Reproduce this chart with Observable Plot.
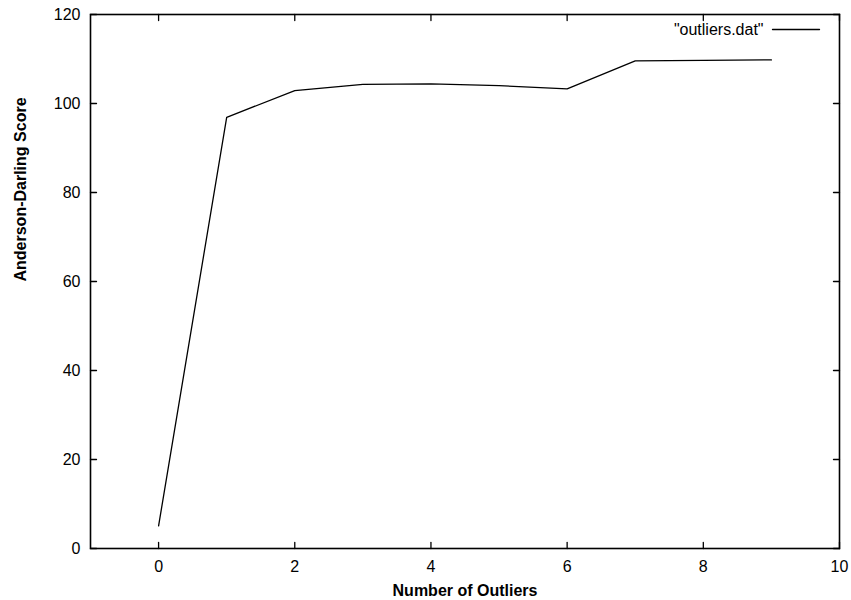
<!DOCTYPE html>
<html>
<head>
<meta charset="utf-8">
<script src="https://cdn.jsdelivr.net/npm/d3@7"></script>
<script src="https://cdn.jsdelivr.net/npm/@observablehq/plot@0.6"></script>
<style>
  html, body { margin: 0; padding: 0; background: #fff; }
  #chart svg { display: block; font-family: "Liberation Sans", Arial, Helvetica, sans-serif; }
</style>
</head>
<body>
<div id="chart"></div>
<script>
const outliers = [0, 1, 2, 3, 4, 5, 6, 7, 8, 9];
const scores = [5.1, 96.9, 102.9, 104.3, 104.4, 104.0, 103.3, 109.6, 109.7, 109.8];
const xTicks = [0, 2, 4, 6, 8, 10];
const yTicks = [0, 20, 40, 60, 80, 100, 120];
const legendLabel = "\"outliers.dat\"";
const xLabel = "Number of Outliers";
const yLabel = "Anderson-Darling Score";

const data = outliers.map((x, i) => ({x, y: scores[i]}));

const lineShape = {
  draw(context, l) { context.moveTo(0, 0); context.lineTo(0, -l); }
};

const tickStyle = {length: 6, shape: lineShape, anchor: "start", stroke: "#000", strokeWidth: 1.3};

const chart = Plot.plot({
  width: 851,
  height: 600,
  marginLeft: 90,
  marginRight: 12,
  marginTop: 14,
  marginBottom: 52,
  style: {fontSize: "16px", fontFamily: "'Liberation Sans', Arial, Helvetica, sans-serif", color: "#000", background: "#fff"},
  x: {domain: [-1, 10], axis: null},
  y: {domain: [0, 120], axis: null},
  marks: [
    // tick labels
    Plot.axisX(xTicks, {anchor: "bottom", tickSize: 0, tickPadding: 12, fontSize: 16, fill: "#000", label: null}),
    Plot.axisY(yTicks, {anchor: "left", tickSize: 0, tickPadding: 10, fontSize: 16, fill: "#000", label: null}),
    // inward ticks, mirrored on all sides
    Plot.vectorX(xTicks, {x: d => d, frameAnchor: "bottom", rotate: 0, ...tickStyle}),
    Plot.vectorX(xTicks, {x: d => d, frameAnchor: "top", rotate: 180, ...tickStyle}),
    Plot.vectorY(yTicks, {y: d => d, frameAnchor: "left", rotate: 90, ...tickStyle}),
    Plot.vectorY(yTicks, {y: d => d, frameAnchor: "right", rotate: -90, ...tickStyle}),
    // axis titles
    Plot.text([xLabel], {frameAnchor: "bottom", dy: 47, fontWeight: "bold", fontSize: 16, fill: "#000"}),
    Plot.text([yLabel], {frameAnchor: "left", dx: -70, rotate: -90, fontWeight: "bold", fontSize: 16, fill: "#000"}),
    // data line
    Plot.line(data, {x: "x", y: "y", stroke: "#000", strokeWidth: 1.3}),
    // legend
    Plot.text([legendLabel], {frameAnchor: "top-right", dx: -76, dy: 15, textAnchor: "end", lineAnchor: "middle", fontSize: 16, fill: "#000"}),
    Plot.vector([legendLabel], {frameAnchor: "top-right", dx: -20, dy: 15, rotate: 90, length: 47, anchor: "end", shape: lineShape, stroke: "#000", strokeWidth: 1.3}),
    Plot.frame({stroke: "#000", strokeWidth: 1.6})
  ]
});
document.getElementById("chart").appendChild(chart);
</script>
</body>
</html>
